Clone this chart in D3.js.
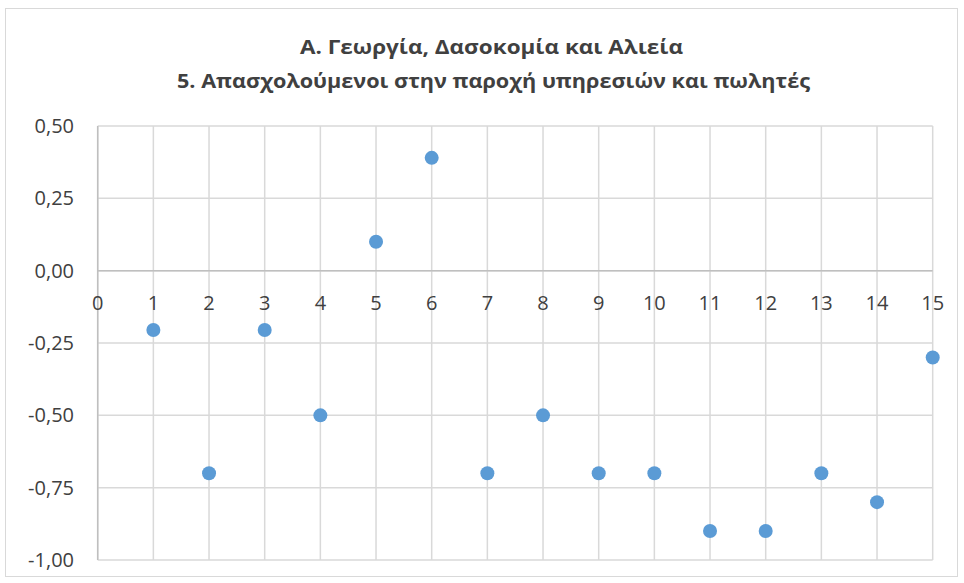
<!DOCTYPE html>
<html lang="el">
<head>
<meta charset="UTF-8">
<title>Απασχολούμενοι στην παροχή υπηρεσιών και πωλητές</title>
<script src="https://d3js.org/d3.v7.min.js"></script>
<style>
    body { margin: 0; background: #fff; font-family: "Open Sans", Arial, sans-serif; }
    .grid line { stroke: #d9d9d9; stroke-width: 1.5px; }
    .tick-label { fill: #404040; font-size: 20px; }
    .title { fill: #404040; font-weight: bold; font-size: 20px; }
</style>
</head>
<body>
<svg width="964" height="583"></svg>
<script>
    // data
    const xValues = [1, 2, 3, 4, 5, 6, 7, 8, 9, 10, 11, 12, 13, 14, 15];
    const yValues = [-0.205, -0.7, -0.205, -0.5, 0.1, 0.39, -0.7, -0.5, -0.7, -0.7, -0.9, -0.9, -0.7, -0.8, -0.3];
    const xTicks = d3.range(0, 16);
    const yTicks = [0.5, 0.25, 0, -0.25, -0.5, -0.75, -1];
    const titleLines = ["Α.  Γεωργία, Δασοκομία και Αλιεία", "5. Απασχολούμενοι  στην παροχή υπηρεσιών  και πωλητές"];

    const svg = d3.select("svg");
    const fmt = d3.formatLocale({decimal: ",", thousands: ".", grouping: [3], currency: ["", "€"], minus: "-"}).format(".2f");

    // chart frame
    svg.append("rect")
        .attr("x", 5.5).attr("y", 8.5)
        .attr("width", 952).attr("height", 568)
        .attr("fill", "#fff").attr("stroke", "#d9d9d9").attr("stroke-width", 1);

    const x = d3.scaleLinear().domain([0, 15]).range([97.7, 932.7]);
    const y = d3.scaleLinear().domain([-1, 0.5]).range([560, 126]);

    // gridlines
    const grid = svg.append("g").attr("class", "grid");
    grid.selectAll(".h").data(yTicks).enter().append("line")
        .attr("x1", x(0)).attr("x2", x(15))
        .attr("y1", d => y(d)).attr("y2", d => y(d));
    grid.selectAll(".v").data(xTicks).enter().append("line")
        .attr("x1", d => x(d)).attr("x2", d => x(d))
        .attr("y1", y(0.5)).attr("y2", y(-1));

    // axis lines (x axis crosses at 0)
    svg.append("line")
        .attr("x1", x(0)).attr("x2", x(15)).attr("y1", y(0)).attr("y2", y(0))
        .attr("stroke", "#bfbfbf").attr("stroke-width", 1.5);
    svg.append("line")
        .attr("x1", x(0)).attr("x2", x(0)).attr("y1", y(0.5)).attr("y2", y(-1))
        .attr("stroke", "#bfbfbf").attr("stroke-width", 1.5);

    // y tick labels
    svg.selectAll(".ylab").data(yTicks).enter().append("text")
        .attr("class", "tick-label")
        .attr("x", 74).attr("y", d => y(d))
        .attr("dy", "0.35em")
        .attr("text-anchor", "end")
        .text(d => fmt(d));

    // x tick labels under the zero line
    svg.selectAll(".xlab").data(xTicks).enter().append("text")
        .attr("class", "tick-label")
        .attr("x", d => x(d)).attr("y", y(0) + 39)
        .attr("text-anchor", "middle")
        .text(d => d);

    // points
    svg.selectAll(".dot").data(xValues).enter().append("circle")
        .attr("cx", d => x(d))
        .attr("cy", (d, i) => y(yValues[i]))
        .attr("r", 7)
        .attr("fill", "#5b9bd5");

    // title
    svg.append("text").attr("class", "title")
        .attr("x", 491.5).attr("y", 54)
        .attr("text-anchor", "middle")
        .attr("textLength", 383).attr("lengthAdjust", "spacingAndGlyphs")
        .text(titleLines[0]);
    svg.append("text").attr("class", "title")
        .attr("x", 493.5).attr("y", 88)
        .attr("text-anchor", "middle")
        .attr("textLength", 633).attr("lengthAdjust", "spacingAndGlyphs")
        .text(titleLines[1]);
</script>
</body>
</html>
